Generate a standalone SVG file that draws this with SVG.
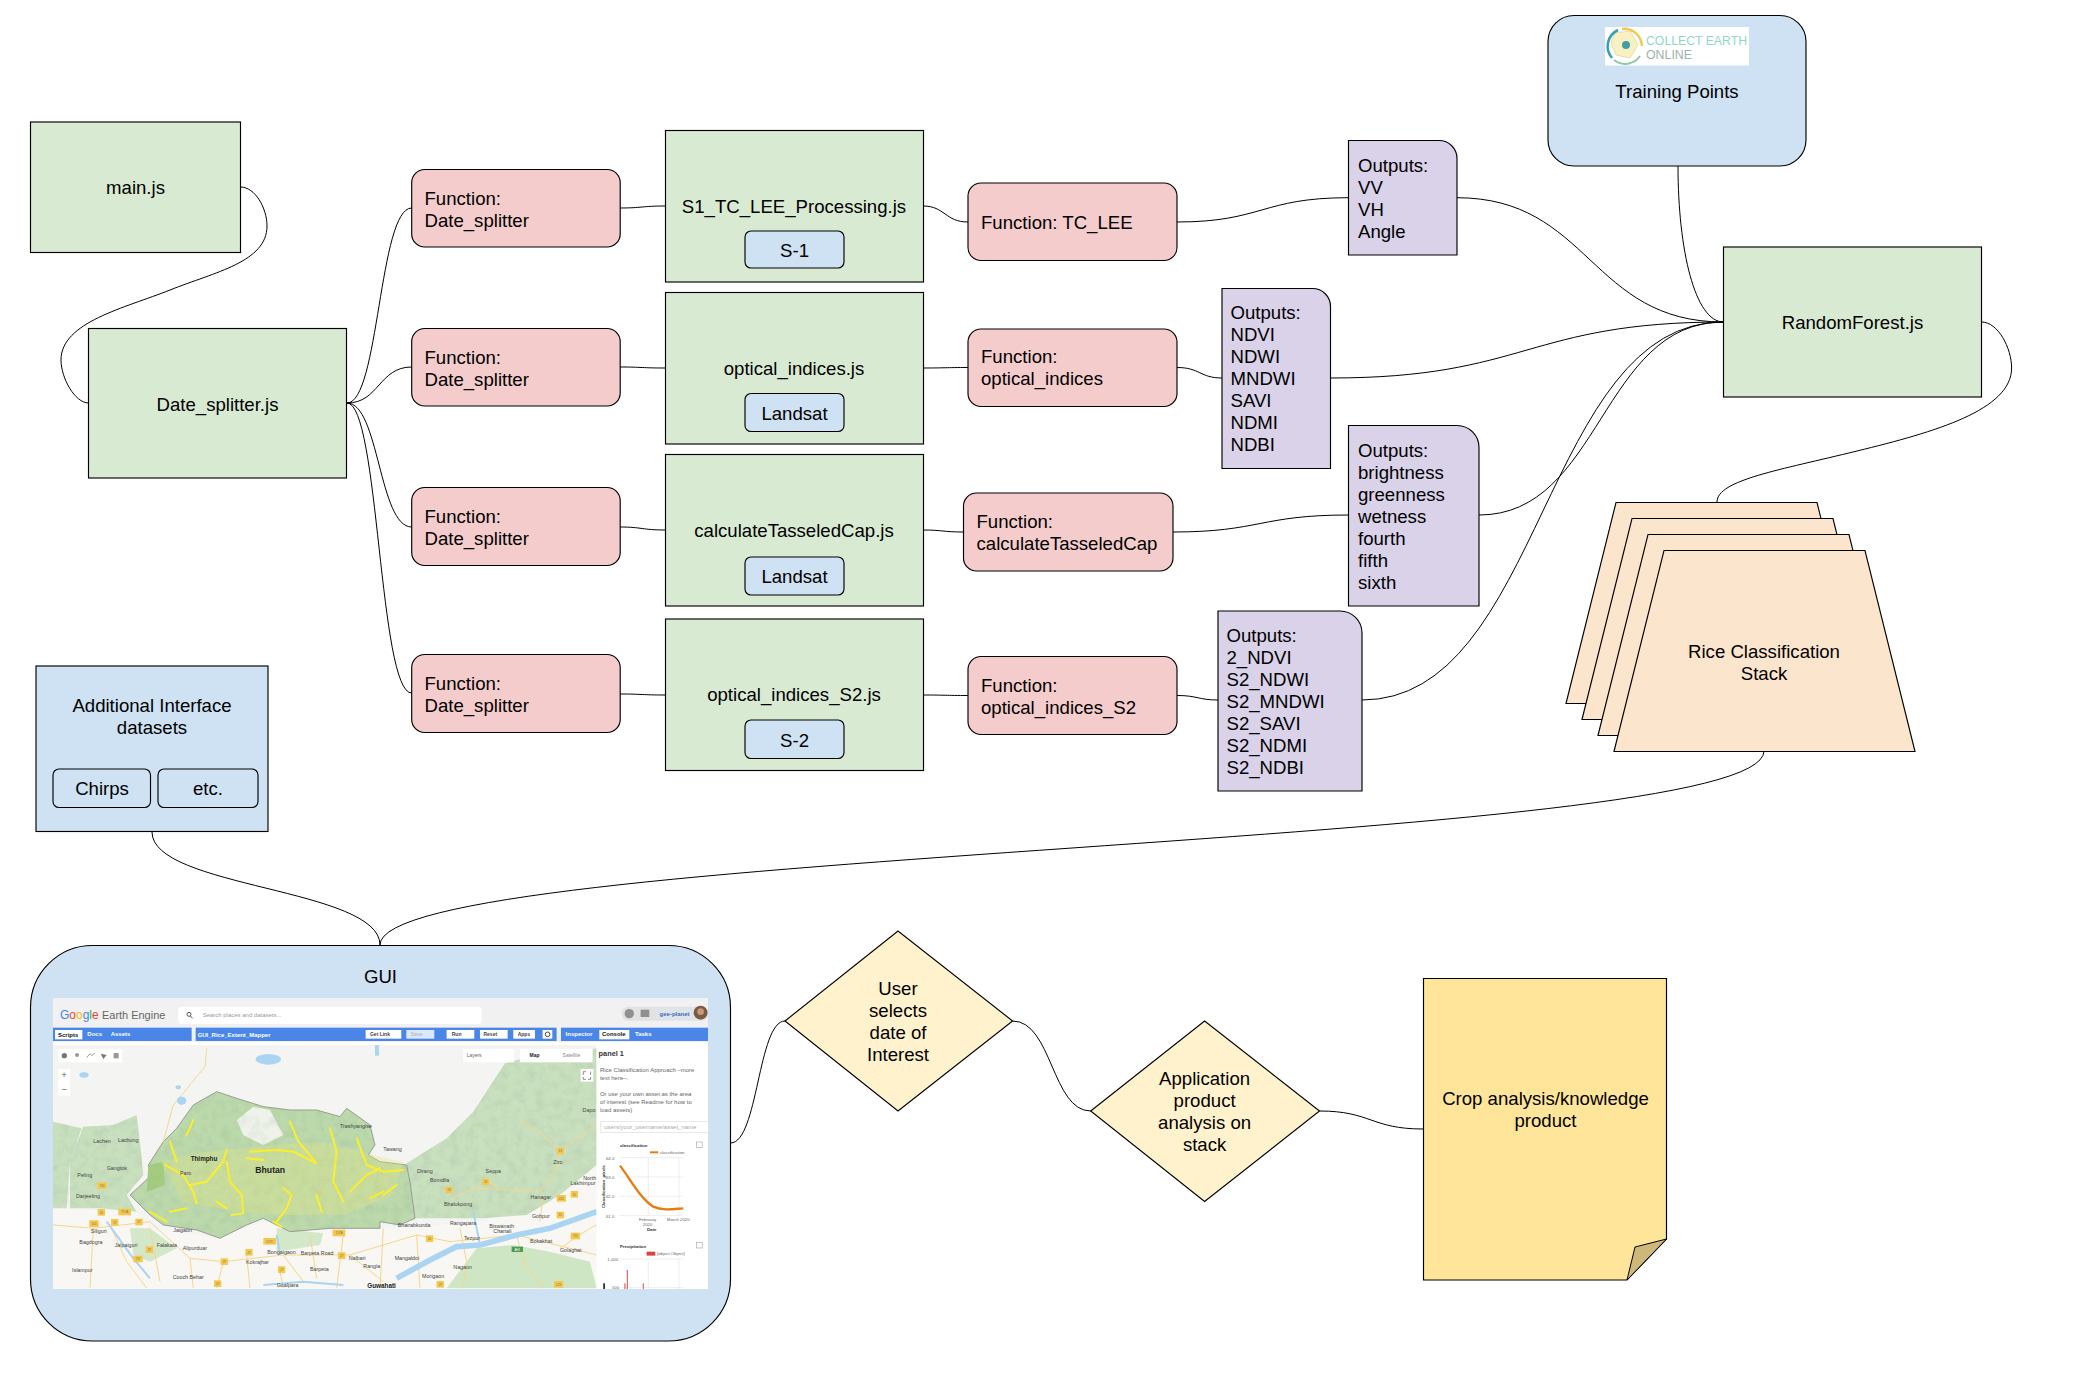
<svg xmlns="http://www.w3.org/2000/svg" width="2083" height="1384" viewBox="0 0 2083 1384">
<style>
.s{stroke:#000;stroke-width:1.15}
.g{fill:#d9ead3}.r{fill:#f4cccc}.p{fill:#d9d2e9}.b{fill:#cfe2f3}.o{fill:#fce5cd}.y{fill:#fff2cc}
text{font-family:"Liberation Sans",Arial,sans-serif;fill:#000}
.t{font-size:18.6px}
.c{text-anchor:middle}
#connectors path{fill:none;stroke:#000;stroke-width:1}
.m{font-size:16px;fill:#444}
.mb{font-size:22px;fill:#222;font-weight:bold}
.sh{fill:#f5c84c}
.sn{font-size:9px;fill:#765;text-anchor:middle}
.rd{fill:none;stroke:#f6d68c;stroke-width:3}
.ye{fill:none;stroke:#fbee2e;stroke-width:6;stroke-linecap:round;stroke-linejoin:round}
.tw{font-size:18px;fill:#fff;font-weight:bold}
.btn{fill:#fff}
.bt{font-size:15px;fill:#444;text-anchor:middle;font-weight:bold}
.pt{font-size:18px;fill:#666}
.ct{font-size:13px;fill:#666}
.cb{font-size:13px;fill:#333;font-weight:bold}
.gl{stroke:#e6e6e6;stroke-width:2}
</style>
<defs>
<clipPath id="shot"><rect x="0" y="0" width="1965" height="873"/></clipPath>
<clipPath id="relief"><path d="M9,380L95,400L100,395L190,390L260,360L270,440L280,540L230,600L260,650L150,640L9,640ZM240,600L300,545L295,510L340,440L380,400L430,330L500,290L560,310L640,335L720,345L800,345L870,365L890,340L960,390L975,450L955,480L990,500L1070,505L1190,430L1270,350L1365,205L1640,160V510L1530,600L1430,660L1300,670L1095,670L1050,690L990,700L840,700L720,710L640,670L590,690L510,730L440,705L340,690L300,660Z"/></clipPath>
<filter id="soft" x="-2%" y="-2%" width="104%" height="104%"><feGaussianBlur stdDeviation="2"/></filter>
<filter id="grain" x="0" y="0" width="100%" height="100%"><feTurbulence type="fractalNoise" baseFrequency=".035" numOctaves="3" seed="7"/><feColorMatrix values="0 0 0 0 .2 0 0 0 0 .3 0 0 0 0 .2 0 0 0 1.800 -.75"/></filter>
</defs>

<g id="connectors">
<path d="M240.500,187C255,187 267,208 267,226C267,262 215,272 170,290C125,308 61,322 61,360C61,378 75,403 88.500,403"/>
<path d="M347,403C379,403 379,208 411.700,208"/>
<path d="M347,403C379,403 379,367 411.700,367"/>
<path d="M347,403C379,403 379,527 411.700,527"/>
<path d="M347,403C379,403 379,693 411.700,693"/>
<path d="M620,208C642,208 642,206 665,206"/>
<path d="M620,367C642,367 642,368 665,368"/>
<path d="M620,527C642,527 642,530 665,530"/>
<path d="M620,694C642,694 642,695 665,695"/>
<path d="M923,206C945,206 945,222 968,222"/>
<path d="M923,368C945,368 945,367.500 968,367.500"/>
<path d="M923,530C943,530 943,532 963,532"/>
<path d="M923,695C945,695 945,695.500 968,695.500"/>
<path d="M1177,222C1262,222 1262,197.700 1348.500,197.700"/>
<path d="M1177,367.500C1200,367.500 1200,378 1222,378"/>
<path d="M1173,532C1260,532 1260,515 1348.500,515"/>
<path d="M1177,695.500C1198,695.500 1198,700 1218,700"/>
<path d="M1456.600,197.700C1590,197.700 1590,322 1723.600,322"/>
<path d="M1330.500,378C1527,378 1527,322 1723.600,322"/>
<path d="M1479,515C1601,515 1601,322 1723.600,322"/>
<path d="M1362,700C1543,700 1543,322 1723.600,322"/>
<path d="M1678,166C1678,250 1695,322 1723.600,322"/>
<path d="M1981.500,322C1998,322 2011.600,348 2011.600,368C2011.600,410 1935,432 1857,451C1780,470 1717,480 1717,502"/>
<path d="M152,832C152,888 380,888 380,945"/>
<path d="M1764,751C1764,848 380,848 380,945"/>
<path d="M730.500,1143C758,1143 758,1021 785,1021"/>
<path d="M1012.600,1021C1052,1021 1052,1111 1090.700,1111"/>
<path d="M1319.500,1111C1371,1111 1371,1129 1423,1129"/>
</g>

<g id="main-js"><rect class="s g" x="30.500" y="122" width="210" height="130.500"/><text class="t c" x="135.500" y="194">main.js</text></g>
<g id="date-splitter"><rect class="s g" x="88.500" y="328.500" width="258" height="149.500"/><text class="t c" x="217.500" y="410.500">Date_splitter.js</text></g>

<g id="fn-date-1"><rect class="s r" x="411.700" y="169.500" width="208.500" height="77.500" rx="13"/><text class="t" x="424.500" y="205">Function:</text><text class="t" x="424.500" y="227">Date_splitter</text></g>
<g id="fn-date-2"><rect class="s r" x="411.700" y="328.500" width="208.500" height="77.500" rx="13"/><text class="t" x="424.500" y="364">Function:</text><text class="t" x="424.500" y="386">Date_splitter</text></g>
<g id="fn-date-3"><rect class="s r" x="411.700" y="487.500" width="208.500" height="78" rx="13"/><text class="t" x="424.500" y="523">Function:</text><text class="t" x="424.500" y="545">Date_splitter</text></g>
<g id="fn-date-4"><rect class="s r" x="411.700" y="654.500" width="208.500" height="78" rx="13"/><text class="t" x="424.500" y="690">Function:</text><text class="t" x="424.500" y="712">Date_splitter</text></g>

<g id="s1-file"><rect class="s g" x="665.500" y="130.500" width="258" height="151.500"/><text class="t c" x="794" y="212.500">S1_TC_LEE_Processing.js</text>
<rect class="s b" x="745" y="231" width="99" height="37" rx="6"/><text class="t c" x="794.500" y="256.500">S-1</text></g>
<g id="optical-file"><rect class="s g" x="665.500" y="292.500" width="258" height="151.500"/><text class="t c" x="794" y="374.500">optical_indices.js</text>
<rect class="s b" x="745" y="393.500" width="99" height="38" rx="6"/><text class="t c" x="794.500" y="419.500">Landsat</text></g>
<g id="tasseled-file"><rect class="s g" x="665.500" y="454.500" width="258" height="151.500"/><text class="t c" x="794" y="536.500">calculateTasseledCap.js</text>
<rect class="s b" x="745" y="557" width="99" height="38" rx="6"/><text class="t c" x="794.500" y="583">Landsat</text></g>
<g id="s2-file"><rect class="s g" x="665.500" y="619" width="258" height="151.500"/><text class="t c" x="794" y="701">optical_indices_S2.js</text>
<rect class="s b" x="745" y="720" width="99" height="38.500" rx="6"/><text class="t c" x="794.500" y="746.500">S-2</text></g>

<g id="fn-tc-lee"><rect class="s r" x="968" y="183" width="209" height="77.500" rx="13"/><text class="t" x="981" y="228.500">Function: TC_LEE</text></g>
<g id="fn-optical"><rect class="s r" x="968" y="329" width="209" height="77.500" rx="13"/><text class="t" x="981" y="362.500">Function:</text><text class="t" x="981" y="384.500">optical_indices</text></g>
<g id="fn-tasseled"><rect class="s r" x="963.500" y="493" width="209.500" height="78" rx="13"/><text class="t" x="976.500" y="527.500">Function:</text><text class="t" x="976.500" y="549.500">calculateTasseledCap</text></g>
<g id="fn-optical-s2"><rect class="s r" x="968" y="656.500" width="209" height="78" rx="13"/><text class="t" x="981" y="692">Function:</text><text class="t" x="981" y="714">optical_indices_S2</text></g>

<g id="outputs-1"><path class="s p" d="M1348.500,140.500H1439a18,18 0 0 1 18,18V255H1348.500Z"/>
<text class="t" x="1358" y="171.500">Outputs:</text><text class="t" x="1358" y="193.500">VV</text><text class="t" x="1358" y="215.500">VH</text><text class="t" x="1358" y="237.500">Angle</text></g>
<g id="outputs-2"><path class="s p" d="M1222,288.500H1312.500a18,18 0 0 1 18,18V468.500H1222Z"/>
<text class="t" x="1230.500" y="319">Outputs:</text><text class="t" x="1230.500" y="341">NDVI</text><text class="t" x="1230.500" y="363">NDWI</text><text class="t" x="1230.500" y="385">MNDWI</text><text class="t" x="1230.500" y="407">SAVI</text><text class="t" x="1230.500" y="429">NDMI</text><text class="t" x="1230.500" y="451">NDBI</text></g>
<g id="outputs-3"><path class="s p" d="M1348.500,425.500H1457a22,22 0 0 1 22,22V606H1348.500Z"/>
<text class="t" x="1358" y="456.500">Outputs:</text><text class="t" x="1358" y="478.500">brightness</text><text class="t" x="1358" y="500.500">greenness</text><text class="t" x="1358" y="522.500">wetness</text><text class="t" x="1358" y="544.500">fourth</text><text class="t" x="1358" y="566.500">fifth</text><text class="t" x="1358" y="588.500">sixth</text></g>
<g id="outputs-4"><path class="s p" d="M1218,611H1340a22,22 0 0 1 22,22V791H1218Z"/>
<text class="t" x="1226.500" y="641.500">Outputs:</text><text class="t" x="1226.500" y="663.500">2_NDVI</text><text class="t" x="1226.500" y="685.500">S2_NDWI</text><text class="t" x="1226.500" y="707.500">S2_MNDWI</text><text class="t" x="1226.500" y="729.500">S2_SAVI</text><text class="t" x="1226.500" y="751.500">S2_NDMI</text><text class="t" x="1226.500" y="773.500">S2_NDBI</text></g>

<g id="training-points"><rect class="s b" x="1548" y="15.500" width="258" height="150.500" rx="26"/>
<rect x="1605" y="27" width="144" height="38.500" fill="#fff"/>
<path d="M1615,33L1630,31L1638,45L1630,58L1616,55L1611,43Z" fill="#f8f1c4" stroke="#e9e0a8"/>
<path d="M1622,29A18,18 0 0 1 1642,46" fill="none" stroke="#f2c94c" stroke-width="2.500"/>
<path d="M1618,30A18,18 0 0 0 1612,58" fill="none" stroke="#35a0b5" stroke-width="2.500"/>
<path d="M1614,60A18,18 0 0 0 1640,56" fill="none" stroke="#8fc9a2" stroke-width="2"/>
<circle cx="1626" cy="45" r="4" fill="#3f9fa5"/>
<text x="1646" y="44.500" font-size="13" textLength="101" lengthAdjust="spacingAndGlyphs" style="fill:#8fd8c8">COLLECT EARTH</text>
<text x="1646" y="59" font-size="13" textLength="46" lengthAdjust="spacingAndGlyphs" style="fill:#a0b2ad">ONLINE</text>
<text class="t c" x="1677" y="98">Training Points</text></g>

<g id="random-forest"><rect class="s g" x="1723.500" y="247" width="258" height="150"/><text class="t c" x="1852.500" y="329">RandomForest.js</text></g>

<g id="rice-stack">
<polygon class="s o" points="1616,502.500 1817,502.500 1867,703.500 1566,703.500"/>
<polygon class="s o" points="1632,518.500 1833,518.500 1883,719.500 1582,719.500"/>
<polygon class="s o" points="1648,534.500 1849,534.500 1899,735.500 1598,735.500"/>
<polygon class="s o" points="1664,550.500 1865,550.500 1915,751.500 1614,751.500"/>
<text class="t c" x="1764" y="658">Rice Classification</text><text class="t c" x="1764" y="680">Stack</text></g>

<g id="additional-datasets"><rect class="s b" x="36" y="666" width="232" height="165.500"/>
<text class="t c" x="152" y="712">Additional Interface</text><text class="t c" x="152" y="734">datasets</text>
<rect class="s b" x="53" y="769" width="97.500" height="38.500" rx="6"/><text class="t c" x="102" y="795">Chirps</text>
<rect class="s b" x="158" y="769" width="100" height="38.500" rx="6"/><text class="t c" x="208" y="795">etc.</text></g>

<g id="gui"><rect class="s b" x="30.500" y="945.500" width="700" height="395.500" rx="62"/>
<text class="t c" x="380.500" y="983">GUI</text>
<g id="gui-screenshot" transform="translate(53,998) scale(.3333)">
<g clip-path="url(#shot)">
<g transform="translate(-9,-9)">
<rect x="9" y="9" width="1965" height="873" fill="#fff"/>
<rect x="9" y="9" width="1965" height="132" fill="#f1f1f1"/>
<g filter="url(#soft)">
<rect x="9" y="150" width="1631" height="730" fill="#f4f4f2"/>
<path d="M9,640L260,650L300,700L500,730L640,680L720,710L1000,700L1300,680L1640,500V880H9Z" fill="#f8f7f3"/>
<path d="M9,380L95,400L60,500L50,640L9,640Z" fill="#c9e0bf"/>
<path d="M100,395L190,390L260,360L270,440L280,540L230,600L260,650L150,640L60,640L60,500Z" fill="#c9e0bf"/>
<path d="M1365,205L1400,195L1640,160V510L1530,600L1430,660L1300,670L1095,670L1080,560L1070,505L1110,480L1190,430L1270,350Z" fill="#c9e0bf"/>
<path d="M240,700L300,700L380,760L300,800L250,780Z" fill="#d3e8c9"/>
<path d="M680,700L820,715L810,750L680,770Z" fill="#d3e8c9"/>
<path d="M1190,880L1280,760L1390,750L1500,770L1620,800L1640,880Z" fill="#cfe6c4"/>
<path d="M240,600L300,545L295,510L340,440L380,400L430,330L500,290L560,310L640,335L720,345L800,345L870,365L890,340L960,390L975,450L955,480L990,500L1070,510L1080,560L1095,670L1050,690L990,680L990,700L840,700L720,710L640,670L590,690L510,730L440,705L340,690L300,660Z" fill="#bcd9ac" stroke="#8a8f85" stroke-width="2.500"/>
<path d="M295,510L340,500L345,570L290,590Z" fill="#a3cc80"/>
<path d="M560,375L610,335L660,345L700,420L640,450L580,420Z" fill="#eef2ea"/>
</g>
<g clip-path="url(#relief)"><rect x="9" y="150" width="1631" height="730" filter="url(#grain)" opacity=".16"/></g>
<g filter="url(#soft)">
<path d="M330,500L470,470L800,440L1060,500L1030,600L880,660L700,660L560,650L400,620Z" fill="#e4e67a" opacity=".3"/>
<path class="ye" d="M345,510L400,540L430,590L440,625M420,570L470,560L520,500L530,465M530,500L540,560L575,600L580,655L545,660"/>
<path class="ye" d="M590,490L640,495M720,380L745,440L770,470L800,505L730,470L680,465L600,470M840,400L860,470L850,560L880,620"/>
<path class="ye" d="M920,430L950,510L1000,530L1060,525M900,590L950,540L990,520M1000,600L1040,570M960,610L1000,590"/>
<path class="ye" d="M360,440L380,500M430,375L410,420M670,680L695,695M700,580L725,600L710,640L680,680M500,620L530,640M300,650L350,680M360,650L410,640M800,600L815,650"/>
<path class="rd" d="M470,160L465,215L420,270L370,330L340,440M130,700L300,680L420,790L520,800L700,780L900,780L1100,720L1200,740L1400,720L1640,780"/>
<path class="rd" d="M180,690L230,800L290,880M520,800L500,880M690,830L700,880M880,720L860,880M1000,700L990,880M1410,380L1480,420L1530,470L1520,520L1470,590L1280,580L1200,610M1640,390L1580,430L1530,470M1300,560L1340,570L1330,580M1480,600L1470,680"/>
<path class="rd" d="M9,690L130,700L120,880M300,700L330,860M420,790L430,880M590,780L600,880M700,780L760,860M780,720L800,850M900,780L1000,860M1100,720L1110,880M1230,700L1250,800L1240,880M1400,720L1420,800L1480,880M1530,760L1620,700L1640,690"/>
<path d="M1040,850L1140,795L1220,755L1290,750L1400,720L1500,700L1640,650" fill="none" stroke="#a9d4f2" stroke-width="17"/>
<path d="M170,680L250,790L300,850M680,720L690,780M1270,650L1290,750M640,870L760,860L880,870" fill="none" stroke="#a9d4f2" stroke-width="6"/>
<ellipse cx="655" cy="193" rx="38" ry="16" fill="#a9d4f2"/><ellipse cx="395" cy="317" rx="14" ry="12" fill="#a9d4f2"/><ellipse cx="102" cy="240" rx="14" ry="8" fill="#a9d4f2"/><ellipse cx="385" cy="277" rx="8" ry="6" fill="#a9d4f2"/><rect x="975" y="150" width="12" height="32" fill="#a9d4f2"/>
</g>
<rect x="9" y="98" width="416" height="40" fill="#4a86e8"/><rect x="437" y="98" width="1083" height="40" fill="#4a86e8"/><rect x="1533" y="98" width="442" height="40" fill="#4a86e8"/>
<rect x="15" y="105" width="82" height="28" fill="#fff"/>
<text x="24" y="125" class="tw" style="fill:#111">Scripts</text><text x="112" y="124" class="tw">Docs</text><text x="182" y="124" class="tw">Assets</text>
<text x="443" y="126" class="tw">GUI_Rice_Extent_Mapper</text>
<g class="btn"><rect x="947" y="105" width="107" height="26"/><rect x="1069" y="105" width="84" height="26" opacity=".8"/><rect x="1190" y="105" width="83" height="26"/><rect x="1290" y="105" width="83" height="26"/><rect x="1390" y="105" width="65" height="26"/><rect x="1478" y="105" width="29" height="26"/></g>
<text x="990" y="124" class="bt">Get Link</text><text x="1100" y="124" class="bt" style="fill:#bbb">Save</text><text x="1220" y="124" class="bt">Run</text><text x="1321" y="124" class="bt">Reset</text><text x="1422" y="124" class="bt">Apps</text>
<circle cx="1493" cy="118" r="7" fill="none" stroke="#444" stroke-width="3"/>
<rect x="1648" y="105" width="90" height="28" fill="#fff"/>
<text x="1547" y="124" class="tw">Inspector</text><text x="1656" y="124" class="tw" style="fill:#111">Console</text><text x="1755" y="124" class="tw">Tasks</text>
<text x="30" y="72" font-size="38" textLength="116" lengthAdjust="spacingAndGlyphs"><tspan style="fill:#4285f4">G</tspan><tspan style="fill:#ea4335">o</tspan><tspan style="fill:#fbbc05">o</tspan><tspan style="fill:#4285f4">g</tspan><tspan style="fill:#34a853">l</tspan><tspan style="fill:#ea4335">e</tspan></text>
<text x="156" y="71" font-size="34" textLength="190" lengthAdjust="spacingAndGlyphs" style="fill:#666">Earth Engine</text>
<rect x="385" y="35" width="910" height="52" rx="10" fill="#fff"/>
<circle cx="417" cy="58" r="6" fill="none" stroke="#555" stroke-width="3"/><path d="M421,63L428,70" stroke="#555" stroke-width="3"/>
<text x="458" y="66" font-size="18" style="fill:#999">Search places and datasets...</text>
<rect x="1715" y="35" width="260" height="42" rx="20" fill="#e2e2e2"/><rect x="1815" y="38" width="160" height="36" rx="16" fill="#dfe4ea"/>
<circle cx="1738" cy="56" r="14" fill="#8f8f8f"/><rect x="1772" y="44" width="26" height="22" fill="#8f8f8f"/>
<text x="1829" y="62" font-size="18" font-weight="bold" style="fill:#3f6db5">gee-planet</text>
<circle cx="1952" cy="53" r="21" fill="#7a5a40"/><circle cx="1952" cy="50" r="10" fill="#c79a7c"/>
<rect x="25" y="163" width="192" height="39" fill="#fff"/><rect x="25" y="222" width="35" height="80" fill="#fff"/>
<circle cx="43" cy="182" r="8" fill="#777"/><circle cx="81" cy="180" r="6" fill="#999"/><path d="M110,188L120,176L126,182L134,174" fill="none" stroke="#999" stroke-width="3"/><path d="M152,176L170,180L160,192Z" fill="#777"/><rect x="191" y="174" width="15" height="16" fill="#999"/>
<text x="42" y="250" font-size="26" class="c" style="fill:#555">+</text><text x="42" y="292" font-size="26" class="c" style="fill:#555">−</text>
<rect x="1240" y="162" width="153" height="40" fill="#fff"/><rect x="1410" y="162" width="218" height="40" fill="#fff"/><rect x="1592" y="222" width="38" height="38" fill="#fff"/>
<path d="M1600,240V230H1608M1622,230V240M1600,246V253H1608M1622,246V253H1614" fill="none" stroke="#555" stroke-width="2"/>
<text x="1250" y="187" font-size="15" style="fill:#666">Layers</text><text x="1439" y="187" font-size="15" font-weight="bold" style="fill:#222">Map</text><text x="1538" y="187" font-size="15" style="fill:#888">Satellite</text>

<g>
<text class="mb" x="422" y="499" style="font-size:19px">Thimphu</text><text class="mb" x="616" y="535" style="font-size:26px">Bhutan</text>
<text class="m" x="870" y="400">Trashyangtse</text><text class="m" x="130" y="445">Lachen</text><text class="m" x="204" y="440">Lachung</text><text class="m" x="170" y="525">Gangtok</text><text class="m" x="82" y="546">Peling</text><text class="m" x="78" y="609">Darjeeling</text><text class="m" x="122" y="713">Siliguri</text><text class="m" x="88" y="748">Bagdogra</text><text class="m" x="194" y="755">Jalpaiguri</text><text class="m" x="320" y="757">Falakata</text><text class="m" x="398" y="764">Alipurduar</text><text class="m" x="370" y="710">Jaigaon</text><text class="m" x="390" y="540">Paro</text><text class="m" x="588" y="808">Kokrajhar</text><text class="m" x="652" y="778">Bongaigaon</text><text class="m" x="752" y="779">Barpeta Road</text><text class="m" x="896" y="794">Nalbari</text><text class="m" x="780" y="828">Barpeta</text><text class="m" x="680" y="875">Goalpara</text><text class="m" x="368" y="851">Cooch Behar</text><text class="m" x="66" y="831">Islampur</text><text class="m" x="940" y="820">Rangia</text>
<text class="mb" x="952" y="880" style="font-size:19px">Guwahati</text>
<text class="m" x="1000" y="468">Tawang</text><text class="m" x="1101" y="534">Dirang</text><text class="m" x="1140" y="561">Bomdila</text><text class="m" x="1307" y="534">Seppa</text><text class="m" x="1510" y="506">Ziro</text><text class="m" x="1600" y="555">North</text><text class="m" x="1562" y="571">Lakhimpur</text><text class="m" x="1442" y="613">Hanagar</text><text class="m" x="1182" y="634">Bhalukpong</text><text class="m" x="1446" y="670">Gohpur</text><text class="m" x="1043" y="695">Bhairabkunda</text><text class="m" x="1200" y="691">Rangapara</text><text class="m" x="1318" y="698">Biswanath</text><text class="m" x="1330" y="715">Chariali</text><text class="m" x="1242" y="735">Tezpur</text><text class="m" x="1440" y="745">Bokakhat</text><text class="m" x="1530" y="772">Golaghat</text><text class="m" x="1034" y="795">Mangaldoi</text><text class="m" x="1210" y="823">Nagaon</text><text class="m" x="1116" y="850">Morigaon</text><text class="m" x="1598" y="352">Dapo</text>
</g>
<g class="sh">
<rect x="142" y="562" width="28" height="20"/><rect x="143" y="642" width="22" height="20"/><rect x="205" y="641" width="38" height="20"/><rect x="118" y="676" width="28" height="20"/><rect x="183" y="672" width="22" height="20"/><rect x="256" y="671" width="22" height="20"/><rect x="287" y="754" width="22" height="20"/><rect x="250" y="782" width="28" height="20"/><rect x="512" y="790" width="22" height="20"/><rect x="586" y="762" width="22" height="20"/><rect x="640" y="729" width="38" height="20"/><rect x="684" y="814" width="22" height="20"/><rect x="848" y="704" width="38" height="20"/><rect x="864" y="772" width="22" height="20"/><rect x="492" y="856" width="22" height="20"/><rect x="1520" y="458" width="22" height="20"/><rect x="1296" y="551" width="22" height="20"/><rect x="1186" y="575" width="22" height="20"/><rect x="1520" y="600" width="28" height="20"/><rect x="1562" y="588" width="22" height="20"/><rect x="1520" y="650" width="22" height="20"/><rect x="1128" y="721" width="22" height="20"/><rect x="1562" y="713" width="28" height="20"/><rect x="1160" y="858" width="22" height="20"/><rect x="1512" y="858" width="28" height="20"/>
</g>
<text class="sn" x="156" y="576">710</text><text class="sn" x="154" y="656">10</text><text class="sn" x="224" y="655">717A</text><text class="sn" x="132" y="690">110</text><text class="sn" x="194" y="686">17</text><text class="sn" x="267" y="685">17</text><text class="sn" x="298" y="768">27</text><text class="sn" x="264" y="796">717</text><text class="sn" x="523" y="804">27</text><text class="sn" x="597" y="776">27</text><text class="sn" x="659" y="743">127C</text><text class="sn" x="695" y="828">17</text><text class="sn" x="867" y="718">127A</text><text class="sn" x="875" y="786">27</text><text class="sn" x="503" y="870">17</text><text class="sn" x="1531" y="472">13</text><text class="sn" x="1307" y="565">13</text><text class="sn" x="1197" y="589">13</text><text class="sn" x="1534" y="614">415</text><text class="sn" x="1573" y="602">15</text><text class="sn" x="1531" y="664">15</text><text class="sn" x="1139" y="735">15</text><text class="sn" x="1576" y="727">715</text><text class="sn" x="1171" y="872">27</text><text class="sn" x="1526" y="872">129</text>
<rect x="1385" y="755" width="34" height="16" fill="#4c9b50"/><text x="1402" y="768" font-size="9" class="c" style="fill:#fff">AH1</text>

<rect x="1640" y="150" width="335" height="732" fill="#fff"/>
<text x="1646" y="183" font-size="22" font-weight="bold" style="fill:#333">panel 1</text>
<text class="pt" x="1650" y="230">Rice Classification Approach –more</text><text class="pt" x="1650" y="254">text here–.</text><text class="pt" x="1650" y="303">Or use your own asset as the area</text><text class="pt" x="1650" y="327">of interest (see Readme for how to</text><text class="pt" x="1650" y="351">load assets)</text>
<rect x="1651" y="380" width="330" height="33" fill="#fff" stroke="#ddd" stroke-width="2"/><text x="1663" y="402" font-size="18" style="fill:#aaa">users/your_username/asset_name</text>
<text class="cb" x="1710" y="456">classification</text>
<path d="M1800,472H1825" stroke="#e67c0e" stroke-width="6"/><text class="ct" x="1830" y="476">classification</text>
<path class="gl" d="M1710,488H1900M1710,546H1900M1710,604H1900M1710,662H1900M1795,488V662M1887,488V662"/>
<text class="ct" x="1668" y="494">64.0</text><text class="ct" x="1668" y="552">63.0</text><text class="ct" x="1668" y="610">62.0</text><text class="ct" x="1668" y="668">61.0</text>
<path d="M1710,512C1740,550 1770,610 1810,635C1840,648 1870,642 1900,640" fill="none" stroke="#e67c0e" stroke-width="7"/>
<text class="ct c" x="1793" y="677">February</text><text class="ct c" x="1793" y="693">2020</text><text class="ct c" x="1885" y="677">March 2020</text><text class="cb c" x="1805" y="708">Date</text>
<text class="cb c" transform="translate(1666,575) rotate(-90)">Classification_pixels</text>
<rect x="1940" y="441" width="17" height="16" fill="none" stroke="#aaa" stroke-width="2"/><rect x="1940" y="743" width="17" height="16" fill="none" stroke="#aaa" stroke-width="2"/>
<text class="cb" x="1710" y="758">Precipitation</text>
<rect x="1790" y="770" width="26" height="12" fill="#d9453d"/><text class="ct" x="1821" y="780">[object Object]</text>
<path class="gl" d="M1710,792H1900M1710,878H1900M1795,792V882M1887,792V882"/>
<text class="ct" x="1672" y="797">1,000</text><text class="ct" x="1686" y="882">500</text>
<path d="M1732,825V882M1725,865V882M1780,865V882" stroke="#d9453d" stroke-width="3"/>
<rect x="1660" y="865" width="5" height="17" fill="#222"/>
</g>
</g>
</g>
</g>

<g id="user-selects"><polygon class="s y" points="785,1021 898,931 1012.600,1021 898,1111"/>
<text class="t c" x="898" y="995">User</text><text class="t c" x="898" y="1017">selects</text><text class="t c" x="898" y="1039">date of</text><text class="t c" x="898" y="1061">Interest</text></g>
<g id="application-analysis"><polygon class="s y" points="1090.700,1111 1204.600,1021 1319.500,1111 1204.600,1201.500"/>
<text class="t c" x="1204.600" y="1085">Application</text><text class="t c" x="1204.600" y="1107">product</text><text class="t c" x="1204.600" y="1129">analysis on</text><text class="t c" x="1204.600" y="1151">stack</text></g>
<g id="crop-product"><path class="s" fill="#ffe599" d="M1423.500,978.500H1666.500V1239L1627,1280H1423.500Z"/>
<path fill="#cdb87a" stroke="#000" d="M1666.500,1239L1635,1247L1627,1280Z"/>
<text class="t c" x="1545.500" y="1105">Crop analysis/knowledge</text><text class="t c" x="1545.500" y="1127">product</text></g>
</svg>
